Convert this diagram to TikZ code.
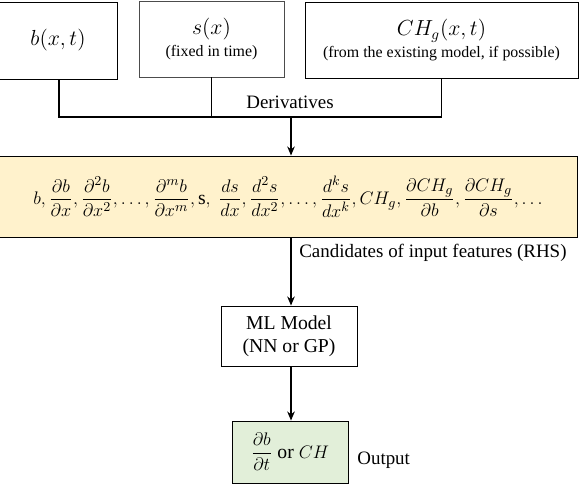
\documentclass[tikz,border=0pt]{standalone}
\usepackage{amsmath}
\usepackage{fontspec}
\setmainfont{Liberation Serif}[Ligatures=TeX]
\newfontfamily\timesfont{Liberation Serif}
\usetikzlibrary{arrows.meta,shapes}

\definecolor{featfill}{HTML}{FFF2CC}
\definecolor{outfill}{HTML}{E2EFD9}

\begin{document}
\begin{tikzpicture}[x=0.66pt,y=-0.66pt,
    box/.style={draw,line width=0.6pt,inner sep=0pt,align=center,font=\timesfont\fontsize{12}{13}\selectfont},
    link/.style={line width=1.3pt},
    arr/.style={line width=1.3pt,-{Stealth[length=6pt,width=5pt]}},
    note/.style={font=\timesfont\fontsize{12.5}{14}\selectfont}]
\useasboundingbox (0,0) rectangle (580,486);

\node [box,minimum width=118*0.66pt,minimum height=77*0.66pt] (bxt) at (58,40.5) {\fontsize{14}{15}\selectfont$b(x,t)$};
\node [box,draw=black!70,minimum width=145*0.66pt,minimum height=76*0.66pt] (sx) at (211.5,39)
    {\fontsize{14}{15}\selectfont$s(x)$\\[1pt] \fontsize{10.5}{12}\selectfont(fixed in time)};
\node [box,minimum width=273*0.66pt,minimum height=76*0.66pt] (chg) at (441.5,40)
    {\fontsize{14}{15}\selectfont$CH_g(x,t)$\\[1pt] \fontsize{10.5}{12}\selectfont(from the existing model, if possible)};

\coordinate (junc) at (291,117);
\node [note] (deriv) at (290,102) {Derivatives};

\node [box,fill=featfill,minimum width=578*0.66pt,minimum height=81*0.66pt] (feat) at (288,196.5)
    {\fontsize{13}{15}\selectfont$\displaystyle b,\frac{\partial b}{\partial x},\frac{\partial^2 b}{\partial x^2},\ldots,\frac{\partial^m b}{\partial x^m},\mathrm{s},\ \frac{ds}{dx},\frac{d^2 s}{dx^2},\ldots,\frac{d^k s}{dx^k},CH_g,\frac{\partial CH_g}{\partial b},\frac{\partial CH_g}{\partial s},\ldots$};
\node [note,anchor=west] (cand) at (294,253) {Candidates of input features (RHS)};

\node [box,minimum width=136*0.66pt,minimum height=60*0.66pt,font=\timesfont\fontsize{13}{15}\selectfont] (ml) at (289,336) {ML Model\\(NN or GP)};

\node [box,fill=outfill,minimum width=116*0.66pt,minimum height=62*0.66pt,font=\timesfont\fontsize{13}{15}\selectfont] (out) at (290,452)
    {$\displaystyle\frac{\partial b}{\partial t}$ or $CH$};
\node [note,anchor=west] (outlbl) at (352,460) {Output};

\draw [link] (bxt.south -| 59,0) |- (junc);
\draw [link] (sx.south) -- (sx.south |- junc);
\draw [link] (chg.south) |- (junc);
\draw [arr] (junc) -- (junc |- feat.north);
\draw [arr] (feat.south -| junc) -- (ml.north -| junc);
\draw [arr] (ml.south -| junc) -- (out.north -| junc);
\end{tikzpicture}
\end{document}
